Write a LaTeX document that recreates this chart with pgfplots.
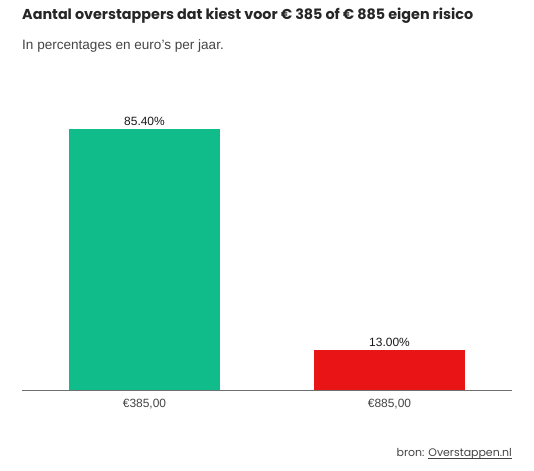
\documentclass[border=0pt]{standalone}
\usepackage{fontspec}
\setmainfont{Liberation Sans}
\newfontfamily\poppins{Poppins}
\usepackage{pgfplots}
\pgfplotsset{compat=1.18}
\usepackage{xcolor}
\definecolor{barGreen}{HTML}{10BC8A}
\definecolor{barRed}{HTML}{E81416}
\definecolor{txtGray}{HTML}{444444}
\definecolor{axGray}{HTML}{707070}

\newlength\ullen
\newcommand\srcul[1]{\settowidth\ullen{#1}\rlap{\rule[-1.6bp]{\ullen}{0.6bp}}#1}

\begin{document}
\begin{tikzpicture}[x=1bp,y=1bp]
\path[use as bounding box] (0,0) rectangle (534,471);

\node[anchor=base west, inner sep=0, font=\poppins\bfseries\fontsize{14.4}{17}\selectfont, text=black!85] at (22,451)
  {Aantal overstappers dat kiest voor € 385 of € 885 eigen risico};
\node[anchor=base west, inner sep=0, font=\fontsize{13.6}{16}\selectfont, text=txtGray] at (22,421)
  {In percentages en euro's per jaar.};

\begin{axis}[
    at={(22bp,81bp)}, anchor=south west,
    scale only axis,
    width=490bp, height=305.6bp,
    xmin=-0.5, xmax=1.5,
    ymin=0, ymax=100,
    axis x line*=bottom,
    axis y line=none,
    x axis line style={axGray, line width=0.9pt, -},
    xtick={0,1},
    xticklabels={{€385,00}, {€885,00}},
    xtick style={draw=none},
    xticklabel style={font=\fontsize{12}{14}\selectfont, text=txtGray, yshift=-1bp},
    ybar, bar width=151bp, bar shift=0pt,
    nodes near coords={\pgfmathprintnumber[fixed,fixed zerofill,precision=2,assume math mode=true]{\pgfplotspointmeta}\%},
    nodes near coords style={font=\fontsize{12}{14}\selectfont, text=black!90},
    clip=false,
]
\addplot[draw=none, fill=barGreen] coordinates {(0,85.4)};
\addplot[draw=none, fill=barRed] coordinates {(1,13.0)};
\end{axis}

\node[anchor=base east, inner sep=0, font=\poppins\fontsize{11}{13}\selectfont, text=txtGray] at (512,14)
  {bron: \srcul{Overstappen.nl}};
\end{tikzpicture}
\end{document}
